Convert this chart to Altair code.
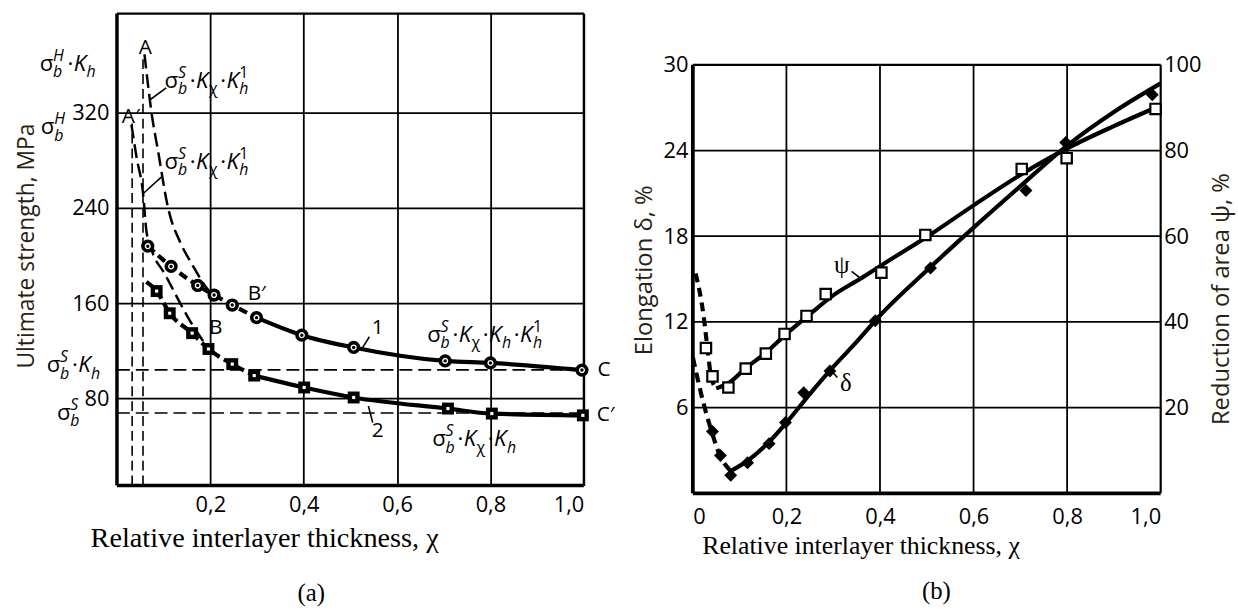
import altair as alt
import pandas as pd

# ======================= Panel (a): ultimate strength =======================
# experimental curve 1 (circles)
chi_c1 = [0.066, 0.116, 0.173, 0.208, 0.247, 0.299, 0.396, 0.507, 0.703, 0.800, 0.996]
sig_c1 = [208.0, 191.0, 175.0, 167.0, 158.6, 148.0, 133.3, 123.0, 111.7, 110.0, 104.0]
# experimental curve 2 (squares)
chi_c2 = [0.085, 0.113, 0.161, 0.196, 0.247, 0.294, 0.401, 0.507, 0.709, 0.803, 0.998]
sig_c2 = [170.3, 151.7, 135.0, 121.7, 109.0, 99.4, 89.4, 81.0, 71.7, 67.5, 66.0]
chi_c2_start, sig_c2_start = [0.063], [178.0]
# calculated curve A -> B'
chi_AB1 = [0.059, 0.066, 0.074, 0.088, 0.109, 0.137, 0.159, 0.201, 0.215]
sig_AB1 = [369.0, 345.0, 320.0, 288.0, 241.0, 210.0, 194.0, 169.0, 165.0]
# calculated curve A' -> B
chi_AB2 = [0.031, 0.042, 0.056, 0.063, 0.074, 0.102, 0.159, 0.197]
sig_AB2 = [310.0, 282.5, 252.0, 221.0, 205.0, 185.0, 143.6, 121.4]
# reference levels
level_names = ["SKh", "S"]
level_vals = [104.2, 68.0]
vert_chi = [0.0325, 0.0558]
vert_top = [311.0, 369.0]
ya_ticks = [80, 160, 240, 320]
xa_ticks = [0.2, 0.4, 0.6, 0.8, 1.0]
YA_MIN, YA_MAX = 7.2, 403.2

# ======================= Panel (b): elongation / reduction of area =======================
chi_psi = [0.028, 0.042, 0.076, 0.113, 0.156, 0.196, 0.243, 0.284, 0.403, 0.497, 0.703, 0.799, 0.989]
psi_val = [33.9, 27.3, 24.7, 29.1, 32.6, 37.2, 41.4, 46.5, 51.5, 60.3, 75.7, 78.2, 89.7]
chi_psi_dash = [0.006, 0.0225, 0.031, 0.039, 0.05]
psi_dash = [51.3, 41.8, 34.1, 27.2, 24.5]
chi_psi_fit = [0.05, 0.08, 0.113, 0.156, 0.196, 0.25, 0.3, 0.357, 0.4, 0.512, 0.6, 0.7, 0.8, 0.9, 1.0]
psi_fit = [24.5, 26.0, 29.2, 32.8, 36.8, 41.8, 46.2, 50.0, 53.0, 60.7, 67.2, 74.3, 80.5, 85.7, 90.5]

chi_d = [0.042, 0.059, 0.081, 0.117, 0.163, 0.198, 0.237, 0.293, 0.39, 0.508, 0.712, 0.797, 0.982]
d_val = [4.33, 2.65, 1.26, 2.14, 3.48, 4.96, 7.04, 8.57, 12.08, 15.78, 21.2, 24.56, 27.9]
chi_d_dash = [0.0, 0.021, 0.039, 0.057, 0.081]
d_dash = [9.54, 6.53, 4.45, 2.72, 1.56]
chi_d_fit = [0.081, 0.12, 0.16, 0.2, 0.25, 0.3, 0.35, 0.4, 0.5, 0.6, 0.7, 0.8, 0.9, 1.0]
d_fit = [1.56, 2.35, 3.5, 4.95, 6.95, 8.85, 10.6, 12.45, 15.6, 18.6, 21.5, 24.35, 26.7, 28.7]

yb_ticks = [6, 12, 18, 24, 30]
yr_ticks = [20, 40, 60, 80, 100]
xb_ticks = [0.0, 0.2, 0.4, 0.6, 0.8, 1.0]
YB_TOP = 30.0
YB_MAX = 33.585
YR_MAX = YB_MAX * 10.0 / 3.0

# ======================= sizes =======================
WA, HA = 471, 476
WB, HB = 472, 484
SXA, SYA = WA / 1.0, HA / (YA_MAX - YA_MIN)
SXB, SYB = WB / 1.0, HB / YB_MAX

INK = "black"
TITLE_INK = "#2a1f14"
SANS = "Open Sans"
SERIF = "Liberation Serif"
COMMA = "datum.value == 0 ? '0' : replace(format(datum.value, '.1f'), '.', ',')"
LBL = 22

# ======================= formula helper =======================
W_EM = {"σ": 0.60, "K": 0.58, "·": 0.28, "b": 0.56, "S": 0.52, "H": 0.72,
        "h": 0.56, "1": 0.56, "χ": 0.52}
ITALIC = set("KbSHh")


def formula(pieces, x0, y0, sx, sy, F=22.5, f=16):
    rows, pos = [], 0.0
    for kind, txt in pieces:
        if kind == "m":
            rows.append((pos, 0.0, txt, F))
            pos += W_EM[txt] * F
        elif kind == "sub":
            rows.append((pos, 6.5, txt, f))
            pos += W_EM[txt] * f + 3
        else:
            sub, sup = txt
            rows.append((pos, 6.5, sub, f))
            rows.append((pos, -10.5, sup, f))
            pos += max(W_EM[sub], W_EM[sup]) * f + 3
    return [{"x": x0 + dx / sx, "y": y0 - dy / sy, "text": t, "size": s, "it": t in ITALIC}
            for dx, dy, t, s in rows]


P_S = [("m", "σ"), ("ss", ("b", "S"))]
P_H = [("m", "σ"), ("ss", ("b", "H"))]
DOT = ("m", "·")
KX = [("m", "K"), ("sub", "χ")]
KH = [("m", "K"), ("sub", "h")]
KH1 = [("m", "K"), ("ss", ("h", "1"))]

formulas_a = [
    (P_S + [DOT] + KX + [DOT] + KH1, 0.1019, 340.8),
    (P_S + [DOT] + KX + [DOT] + KH1, 0.1019, 272.8),
    (P_H + [DOT] + KH, -0.1656, 355.0),
    (P_H, -0.163, 302.0),
    (P_S + [DOT] + KH, -0.1506, 102.1),
    (P_S, -0.1286, 62.1),
    (P_S + [DOT] + KX + [DOT] + KH + [DOT] + KH1, 0.6645, 127.6),
    (P_S + [DOT] + KX + [DOT] + KH, 0.6752, 39.9),
]
frows = []
for p, x0, y0 in formulas_a:
    frows += formula(p, x0, y0, SXA, SYA)
fdf = pd.DataFrame(frows)

labels_a = pd.DataFrame({
    "text": ["A", "A′", "B′", "B", "1", "2", "C", "C′"],
    "x": [0.0605, 0.0297, 0.2994, 0.2113, 0.5584, 0.5584, 1.0435, 1.0467],
    "y": [374.1, 316.7, 167.8, 139.5, 139.5, 53.0, 103.7, 65.9],
})
pointers_a = pd.DataFrame({
    "x": [0.1055, 0.0949, 0.5407, 0.5386],
    "y": [340.8, 265.9, 132.0, 73.8],
    "x2": [0.0715, 0.0558, 0.5265, 0.5478],
    "y2": [331.1, 252.0, 123.1, 59.9],
})

# ======================= panel (a) encodings =======================
XA = alt.X("x:Q", scale=alt.Scale(domain=[0, 1], nice=False, zero=False),
           axis=alt.Axis(values=xa_ticks, labelExpr=COMMA, grid=True, gridColor=INK,
                         gridWidth=1.8, gridOpacity=1, domain=False, ticks=False,
                         labelFont=SANS, labelFontSize=LBL, labelColor=INK, labelPadding=9,
                         title="Relative interlayer thickness, χ", titleFont=SERIF,
                         titleFontSize=28.5, titleFontWeight="normal", titleColor=INK,
                         titleX=148.5, titleY=62, titleAlign="center",
                         titleBaseline="alphabetic"))
YA = alt.Y("y:Q", scale=alt.Scale(domain=[YA_MIN, YA_MAX], nice=False, zero=False),
           axis=alt.Axis(values=ya_ticks, grid=True, gridColor=INK, gridWidth=1.8,
                         gridOpacity=1, domain=False, ticks=False, labelFont=SANS,
                         labelFontSize=LBL, labelColor=INK, labelPadding=8,
                         title="Ultimate strength, MPa", titleFont=SANS, titleFontSize=23,
                         titleFontWeight="normal", titleColor=TITLE_INK, titleAngle=270,
                         titleX=-84, titleY=234, titleAlign="center",
                         titleBaseline="alphabetic"))


def line_df(xs, ys, key="k"):
    return pd.DataFrame({"x": xs, "y": ys, "k": key})


frame_a = pd.DataFrame({
    "x": [0.0, 0.0, 0.0, 1.0], "x2": [1.0, 1.0, 0.0, 1.0],
    "y": [YA_MIN, YA_MAX, YA_MIN, YA_MIN], "y2": [YA_MIN, YA_MAX, YA_MAX, YA_MAX],
    "w": [3.5, 2.2, 3.5, 2.2],
})

base_frame_a = alt.Chart(frame_a).mark_rule(color=INK).encode(
    x=XA, x2="x2:Q", y=YA, y2="y2:Q", strokeWidth=alt.StrokeWidth("w:Q", scale=None))

vert_a = alt.Chart(pd.DataFrame({"x": vert_chi, "y": [YA_MIN, YA_MIN], "y2": vert_top})).mark_rule(
    color=INK, strokeWidth=1.6, strokeDash=[10, 5]).encode(x=XA, y=YA, y2="y2:Q")
horiz_a = alt.Chart(pd.DataFrame({"y": level_vals, "x": [0.0, 0.0], "x2": [1.0, 1.0],
                                  "n": level_names})).mark_rule(
    color=INK, strokeWidth=1.6, strokeDash=[13, 6]).encode(x=XA, x2="x2:Q", y=YA)

calc_a = alt.Chart(pd.concat([line_df(chi_AB1, sig_AB1, "AB1"), line_df(chi_AB2, sig_AB2, "AB2")])).mark_line(
    color=INK, strokeWidth=2.5, strokeDash=[14, 6], interpolate="monotone").encode(
    x=XA, y=YA, detail="k:N", order=alt.Order("x:Q"))

exp_dash = pd.concat([
    line_df(chi_c1[:6], sig_c1[:6], "c1"),
    line_df(chi_c2_start + chi_c2[:6], sig_c2_start + sig_c2[:6], "c2"),
])
exp_solid = pd.concat([
    line_df(chi_c1[5:], sig_c1[5:], "c1"),
    line_df(chi_c2[5:], sig_c2[5:], "c2"),
])
exp_dash_l = alt.Chart(exp_dash).mark_line(color=INK, strokeWidth=4.2, strokeDash=[9, 5],
                                           interpolate="monotone").encode(
    x=XA, y=YA, detail="k:N", order=alt.Order("x:Q"))
exp_solid_l = alt.Chart(exp_solid).mark_line(color=INK, strokeWidth=4.2,
                                             interpolate="monotone").encode(
    x=XA, y=YA, detail="k:N", order=alt.Order("x:Q"))

c1_df = line_df(chi_c1, sig_c1)
c2_df = line_df(chi_c2, sig_c2)
circ_ring = alt.Chart(c1_df).mark_point(shape="circle", filled=True, fill="white", stroke=INK,
                                        strokeWidth=3.6, size=95, opacity=1).encode(x=XA, y=YA)
circ_dot = alt.Chart(c1_df).mark_point(shape="circle", filled=True, color=INK, size=12,
                                       opacity=1).encode(x=XA, y=YA)
sq_fill = alt.Chart(c2_df).mark_point(shape="square", filled=True, color=INK, size=145,
                                      opacity=1).encode(x=XA, y=YA)
sq_hole = alt.Chart(c2_df).mark_point(shape="square", filled=True, color="white", size=10,
                                      opacity=1).encode(x=XA, y=YA)

ptr_a = alt.Chart(pointers_a).mark_rule(color=INK, strokeWidth=1.6).encode(
    x=XA, y=YA, x2="x2:Q", y2="y2:Q")
lab_a = alt.Chart(labels_a).mark_text(font=SANS, fontSize=21, color=INK, align="center",
                                      baseline="middle").encode(x=XA, y=YA, text="text:N")
f_norm = alt.Chart(fdf[~fdf["it"]]).mark_text(font=SANS, color=INK, align="left",
                                             baseline="alphabetic").encode(
    x=XA, y=YA, text="text:N", size=alt.Size("size:Q", scale=None))
f_ital = alt.Chart(fdf[fdf["it"]]).mark_text(font=SANS, fontStyle="italic", color=INK,
                                            align="left", baseline="alphabetic").encode(
    x=XA, y=YA, text="text:N", size=alt.Size("size:Q", scale=None))
tag_a = alt.Chart(pd.DataFrame({"t": ["(a)"]})).mark_text(
    font=SERIF, fontSize=25, color=INK, align="center", baseline="alphabetic").encode(
    x=alt.value(196), y=alt.value(593), text="t:N")

panel_a = alt.layer(
    base_frame_a, vert_a, horiz_a, calc_a, exp_dash_l, exp_solid_l,
    circ_ring, circ_dot, sq_fill, sq_hole, ptr_a, lab_a, f_norm, f_ital, tag_a,
).properties(width=WA, height=HA)

# ======================= panel (b) =======================
XB = alt.X("x:Q", scale=alt.Scale(domain=[0, 1], nice=False, zero=False),
           axis=alt.Axis(values=xb_ticks, labelExpr=COMMA, grid=False, domain=False,
                         ticks=False, labelFont=SANS, labelFontSize=LBL, labelColor=INK,
                         labelPadding=13, title="Relative interlayer thickness, χ",
                         titleFont=SERIF, titleFontSize=26, titleFontWeight="normal",
                         titleColor=INK, titleX=169.2, titleY=61, titleAlign="center",
                         titleBaseline="alphabetic"))
YB = alt.Y("y:Q", scale=alt.Scale(domain=[0, YB_MAX], nice=False, zero=False),
           axis=alt.Axis(values=yb_ticks, grid=False, domain=False, ticks=False,
                         labelFont=SANS, labelFontSize=LBL, labelColor=INK, labelPadding=5,
                         title="Elongation δ, %", titleFont=SANS, titleFontSize=24,
                         titleFontWeight="normal", titleColor=TITLE_INK, titleAngle=270,
                         titleX=-41.3, titleY=258.5, titleAlign="center",
                         titleBaseline="alphabetic"))
YR = alt.Y("y:Q", scale=alt.Scale(domain=[0, YR_MAX], nice=False, zero=False),
           axis=alt.Axis(orient="right", values=yr_ticks, grid=False, domain=False,
                         ticks=False, labelFont=SANS, labelFontSize=LBL, labelColor=INK,
                         labelPadding=3, title="Reduction of area ψ, %", titleFont=SANS,
                         titleFontSize=24, titleFontWeight="normal", titleColor=TITLE_INK,
                         titleAngle=270, titleX=68.7, titleY=287.5, titleAlign="center",
                         titleBaseline="alphabetic"))

grid_b = pd.concat([
    pd.DataFrame({"x": xb_ticks[1:-1], "x2": xb_ticks[1:-1], "y": 0.0, "y2": YB_TOP, "w": 1.8}),
    pd.DataFrame({"x": 0.0, "x2": 1.0, "y": yb_ticks[:-1], "y2": yb_ticks[:-1], "w": 1.8}),
    pd.DataFrame({"x": [0.0, 0.0, 0.0, 1.0], "x2": [1.0, 1.0, 0.0, 1.0],
                  "y": [0.0, YB_TOP, 0.0, 0.0], "y2": [0.0, YB_TOP, YB_TOP, YB_TOP],
                  "w": [3.8, 2.2, 3.8, 2.2]}),
])
grid_b_l = alt.Chart(grid_b).mark_rule(color=INK).encode(
    x=XB, x2="x2:Q", y=YB, y2="y2:Q", strokeWidth=alt.StrokeWidth("w:Q", scale=None))

d_dash_l = alt.Chart(line_df(chi_d_dash, d_dash)).mark_line(
    color=INK, strokeWidth=4.2, strokeDash=[10, 6], interpolate="monotone").encode(
    x=XB, y=YB, order=alt.Order("x:Q"))
d_fit_l = alt.Chart(line_df(chi_d_fit, d_fit)).mark_line(
    color=INK, strokeWidth=4.2, interpolate="monotone").encode(x=XB, y=YB, order=alt.Order("x:Q"))
d_pts = alt.Chart(line_df(chi_d, d_val)).mark_point(
    shape="diamond", filled=True, color=INK, size=170, opacity=1).encode(x=XB, y=YB)

labels_b = pd.DataFrame({"text": ["ψ", "δ"], "x": [0.3182, 0.3269], "y": [16.01, 7.75]})
pointers_b = pd.DataFrame({"x": [0.3394, 0.3089], "y": [15.54, 8.11],
                           "x2": [0.3572, 0.2968], "y2": [15.08, 8.56]})
lab_b = alt.Chart(labels_b).mark_text(font=SERIF, fontSize=25, color=INK, align="center",
                                      baseline="middle").encode(x=XB, y=YB, text="text:N")
ptr_b = alt.Chart(pointers_b).mark_rule(color=INK, strokeWidth=1.6).encode(
    x=XB, y=YB, x2="x2:Q", y2="y2:Q")
tag_b = alt.Chart(pd.DataFrame({"t": ["(b)"]})).mark_text(
    font=SERIF, fontSize=25, color=INK, align="center", baseline="alphabetic").encode(
    x=alt.value(245.7), y=alt.value(591), text="t:N")

left_b = alt.layer(grid_b_l, d_dash_l, d_fit_l, d_pts, ptr_b, lab_b, tag_b)

psi_dash_l = alt.Chart(line_df(chi_psi_dash, psi_dash)).mark_line(
    color=INK, strokeWidth=4.2, strokeDash=[9, 6], interpolate="monotone").encode(
    x=XB, y=YR, order=alt.Order("x:Q"))
psi_fit_l = alt.Chart(line_df(chi_psi_fit, psi_fit)).mark_line(
    color=INK, strokeWidth=4.2, interpolate="monotone").encode(x=XB, y=YR, order=alt.Order("x:Q"))
psi_pts = alt.Chart(line_df(chi_psi, psi_val)).mark_point(
    shape="square", filled=True, fill="white", stroke=INK, strokeWidth=2.2, size=110,
    opacity=1).encode(x=XB, y=YR)
right_b = alt.layer(psi_dash_l, psi_fit_l, psi_pts)

panel_b = alt.layer(left_b, right_b).resolve_scale(y="independent").properties(
    width=WB, height=HB)

chart = alt.hconcat(panel_a, panel_b, spacing=110, bounds="flush").properties(
    padding={"left": 16, "top": 9, "right": 4, "bottom": 4},
    background="white",
).configure_view(stroke=None)

chart.save("out.html", embed_options={"renderer": "svg", "actions": False})
